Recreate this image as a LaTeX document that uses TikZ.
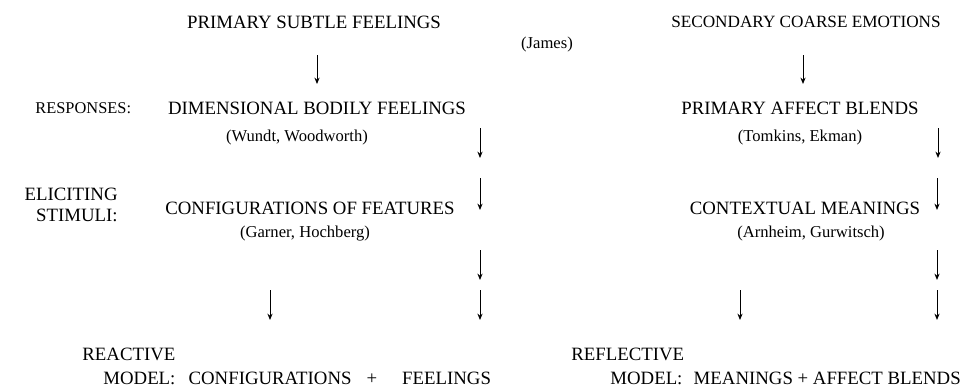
\documentclass[tikz,border=0pt]{standalone}
\usepackage{fontspec}
\setmainfont{Liberation Serif}
\usetikzlibrary{arrows.meta, positioning}

\begin{document}
\begin{tikzpicture}[x=0.5pt, y=-0.5pt,
    head/.style={inner sep=0pt, font=\fontsize{9.4}{11}\selectfont},
    cite/.style={inner sep=0pt, font=\fontsize{8.3}{10}\selectfont},
    down/.style={-{Stealth[length=3.2pt, width=2.6pt]}, line width=0.5pt}]
    \useasboundingbox (0,0) rectangle (969,391);

    % left column
    \node[head] (psf) at (314,22) {PRIMARY SUBTLE FEELINGS};
    \node[head, anchor=west, font=\fontsize{8.2}{10}\selectfont] (resp) at (35,108) {RESPONSES:};
    \node[head] (dbf) at (317,108) {DIMENSIONAL BODILY FEELINGS};
    \node[cite] (wundt) at (297,138) {(Wundt, Woodworth)};
    \node[head, anchor=east] (elic) at (118,194) {ELICITING};
    \node[head, anchor=east] (stim) at (118,215) {STIMULI:};
    \node[head] (conf) at (310,208) {CONFIGURATIONS OF FEATURES};
    \node[cite] (garner) at (305,234) {(Garner, Hochberg)};
    \node[head, anchor=west] (react) at (82,354) {REACTIVE};
    \node[head, anchor=west] (rmodel) at (103,378)
        {MODEL:\hspace{0.7em}CONFIGURATIONS\hspace{0.8em}+\hspace{1.33em}FEELINGS};

    % right column
    \node[head, font=\fontsize{8.6}{10}\selectfont] (sce) at (806,22) {SECONDARY COARSE EMOTIONS};
    \node[cite] (james) at (547,45) {(James)};
    \node[head] (pab) at (800,108) {PRIMARY AFFECT BLENDS};
    \node[cite] (tomkins) at (800,138) {(Tomkins, Ekman)};
    \node[head] (ctx) at (805,208) {CONTEXTUAL MEANINGS};
    \node[cite] (arnheim) at (811,234) {(Arnheim, Gurwitsch)};
    \node[head, anchor=west] (refl) at (571,354) {REFLECTIVE};
    \node[head, anchor=west] (fmodel) at (610,378)
        {MODEL:\hspace{0.6em}MEANINGS + AFFECT BLENDS};

    % arrow ends
    \coordinate (l1) at (317,55);  \coordinate (l1e) at (317,84);
    \coordinate (l2) at (480,128); \coordinate (l2e) at (480,158);
    \coordinate (l3) at (480,178); \coordinate (l3e) at (480,210);
    \coordinate (l4) at (480,250); \coordinate (l4e) at (480,280);
    \coordinate (l5) at (480,290); \coordinate (l5e) at (480,320);
    \coordinate (l6) at (270,290); \coordinate (l6e) at (270,320);
    \coordinate (r1) at (803,55);  \coordinate (r1e) at (803,84);
    \coordinate (r2) at (938,128); \coordinate (r2e) at (938,158);
    \coordinate (r3) at (937,178); \coordinate (r3e) at (937,210);
    \coordinate (r4) at (937,250); \coordinate (r4e) at (937,280);
    \coordinate (r5) at (937,290); \coordinate (r5e) at (937,320);
    \coordinate (r6) at (740,290); \coordinate (r6e) at (740,320);

    \path[down]
    (l1) edge (l1e)
    (l2) edge (l2e)
    (l3) edge (l3e)
    (l4) edge (l4e)
    (l5) edge (l5e)
    (l6) edge (l6e)
    (r1) edge (r1e)
    (r2) edge (r2e)
    (r3) edge (r3e)
    (r4) edge (r4e)
    (r5) edge (r5e)
    (r6) edge (r6e);
\end{tikzpicture}
\end{document}
